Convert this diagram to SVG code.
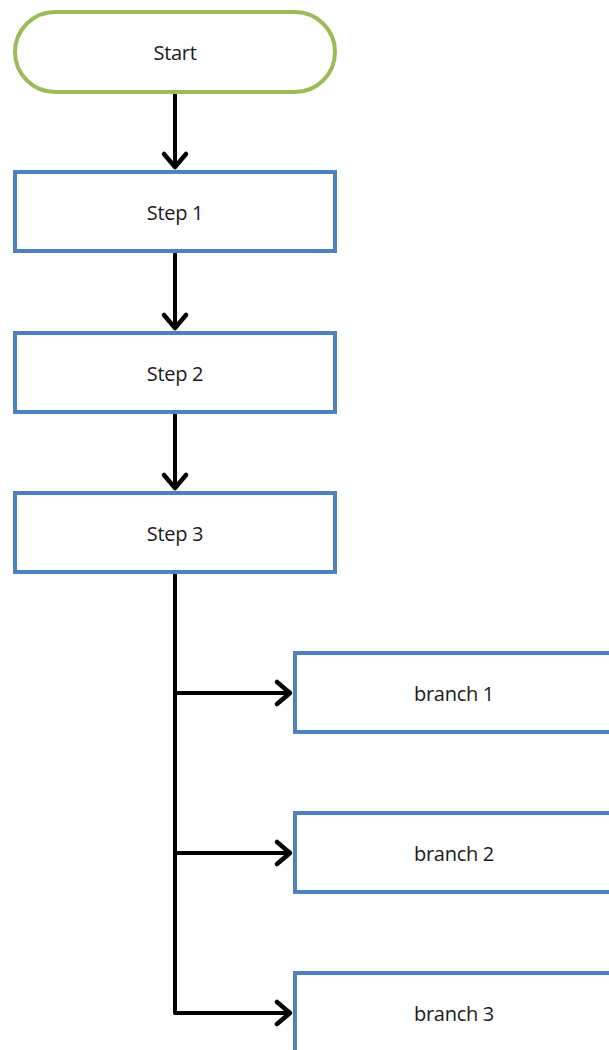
<svg xmlns="http://www.w3.org/2000/svg" width="609" height="1050" viewBox="0 0 609 1050">
<style>
.term{fill:#fff;stroke:#9BBB59;stroke-width:4}
.box{fill:#fff;stroke:#4F81BD;stroke-width:4}
.lbl{font-family:"Open Sans","Noto Sans","Liberation Sans",sans-serif;font-size:20px;letter-spacing:-0.3px;fill:#1a1a1a;text-anchor:middle;dominant-baseline:central}
.edge{fill:none;stroke:#000;stroke-width:4;stroke-linejoin:round}
</style>
<defs>
<marker id="arr" markerUnits="userSpaceOnUse" markerWidth="30" markerHeight="30" refX="0" refY="0" orient="auto" overflow="visible">
<path d="M-13,-11 L0,0 L-13,11" fill="none" stroke="#000" stroke-width="4.5" stroke-linecap="round" stroke-linejoin="round"/>
</marker>
</defs>
<rect width="609" height="1050" fill="#fff"/>
<g id="connectors">
<path class="edge" d="M175,94 V167" marker-end="url(#arr)"/>
<path class="edge" d="M175,253 V328" marker-end="url(#arr)"/>
<path class="edge" d="M175,413 V488" marker-end="url(#arr)"/>
<path class="edge" d="M175,573 V1013 H290" marker-end="url(#arr)"/>
<path class="edge" d="M175,693 H290" marker-end="url(#arr)"/>
<path class="edge" d="M175,853 H290" marker-end="url(#arr)"/>
</g>
<g id="start">
<rect class="term" x="15" y="12" width="320" height="80" rx="40" ry="40"/>
<text class="lbl" x="175" y="52">Start</text>
</g>
<g id="step1">
<rect class="box" x="15" y="172" width="320" height="79"/>
<text class="lbl" x="175" y="212">Step 1</text>
</g>
<g id="step2">
<rect class="box" x="15" y="333" width="320" height="79"/>
<text class="lbl" x="175" y="373">Step 2</text>
</g>
<g id="step3">
<rect class="box" x="15" y="493" width="320" height="79"/>
<text class="lbl" x="175" y="533">Step 3</text>
</g>
<g id="branch1">
<rect class="box" x="295" y="653" width="318" height="79"/>
<text class="lbl" x="454" y="693">branch 1</text>
</g>
<g id="branch2">
<rect class="box" x="295" y="813" width="318" height="79"/>
<text class="lbl" x="454" y="853">branch 2</text>
</g>
<g id="branch3">
<rect class="box" x="295" y="973" width="318" height="79"/>
<text class="lbl" x="454" y="1013">branch 3</text>
</g>
</svg>
